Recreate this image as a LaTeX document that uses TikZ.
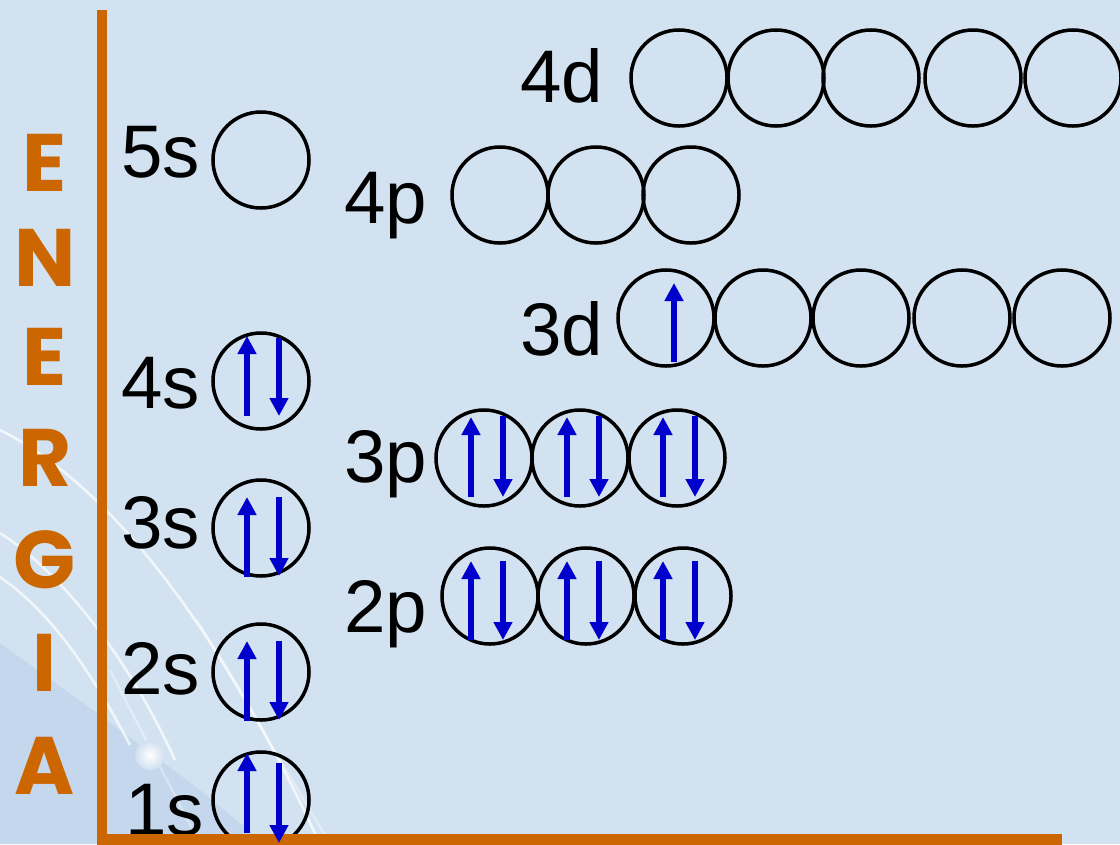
\documentclass[tikz,border=0pt]{standalone}
\usepackage{fontspec}
\setmainfont{Liberation Sans}
\newfontfamily\energfont{Poppins}
\usetikzlibrary{arrows.meta}
\definecolor{bg}{RGB}{211,226,240}
\definecolor{bgdark}{RGB}{196,215,236}
\definecolor{axisorange}{RGB}{204,102,0}
\definecolor{spinblue}{RGB}{0,0,204}
\tikzset{
  orb/.style={circle, draw=black, line width=0.0875cm, minimum size=2.4cm, inner sep=0pt},
  lbl/.style={anchor=base west, inner sep=0pt, font=\fontsize{53}{62}\selectfont},
  spin/.style={draw=spinblue, line width=0.15cm, -{Triangle[width=0.45cm,length=0.45cm]}},
  letter/.style={text=axisorange, inner sep=0pt, font=\energfont\bfseries\fontsize{58}{68}\selectfont},
  axisline/.style={draw=axisorange},
  deco/.style={draw=white, line width=0.065cm, opacity=0.7},
  faint/.style={draw=white, line width=0.06cm, opacity=0.35},
}
\begin{document}
\begin{tikzpicture}[x=0.025cm,y=-0.025cm]
\useasboundingbox (0,0) rectangle (1120,844);
\fill[bg] (0,0) rectangle (1120,844);
% background decoration
\fill[bgdark] (0,643) -- (97,713) -- (200,790) -- (265,844) -- (0,844) -- cycle;
\draw[deco] (0,430) .. controls (120,490) and (230,650) .. (320,844);
\draw[deco] (0,533) .. controls (50,565) and (120,640) .. (175,760);
\draw[deco] (0,577) .. controls (40,605) and (80,650) .. (130,745);
\draw[faint] (197,620) -- (330,844);
\draw[faint] (110,670) -- (200,844);
\shade[inner color=white, outer color=bgdark!80!white] (150,755) circle (15);

% ENERGIA
\node[letter] (e1) at (45,163) {E};
\node[letter] (e2) at (45,258) {N};
\node[letter] (e3) at (45,357) {E};
\node[letter] (e4) at (45,458) {R};
\node[letter] (e5) at (45,560) {G};
\node[letter] (e6) at (45,663) {I};
\node[letter] (e7) at (45,766) {A};

% labels
\node[lbl] (l5s) at (121,177) {5s};
\node[lbl] (l4s) at (121,408) {4s};
\node[lbl] (l3s) at (121,548) {3s};
\node[lbl] (l2s) at (121,694) {2s};
\node[lbl] (l1s) at (125,835) {1s};
\node[lbl] (l4p) at (344,223) {4p};
\node[lbl] (l3p) at (344,482) {3p};
\node[lbl] (l2p) at (344,632) {2p};
\node[lbl] (l4d) at (520,102) {4d};
\node[lbl] (l3d) at (520,355) {3d};

% orbitals
\node[orb] (s5) at (261,160) {};
\node[orb] (s4) at (261,381) {};
\node[orb] (s3) at (261,528) {};
\node[orb] (s2) at (261,672) {};
\node[orb] (s1) at (261,800) {};
\node[orb] (p4a) at (500,195) {};
\node[orb] (p4b) at (596,195) {};
\node[orb] (p4c) at (691,195) {};
\node[orb] (p3a) at (484,458) {};
\node[orb] (p3b) at (580,458) {};
\node[orb] (p3c) at (677,458) {};
\node[orb] (p2a) at (490,596) {};
\node[orb] (p2b) at (586,596) {};
\node[orb] (p2c) at (683,596) {};
\node[orb] (d3a) at (666,318) {};
\node[orb] (d3b) at (763,318) {};
\node[orb] (d3c) at (861,318) {};
\node[orb] (d3d) at (962,318) {};
\node[orb] (d3e) at (1062,318) {};
\node[orb] (d4a) at (679,78) {};
\node[orb] (d4b) at (776,78) {};
\node[orb] (d4c) at (871,78) {};
\node[orb] (d4d) at (973,78) {};
\node[orb] (d4e) at (1073,78) {};

% axes
\draw[axisline, line width=0.27cm] (102,10) -- (102,844);
\draw[axisline, line width=0.3cm] (97,840) -- (1062,840);

% spins
\draw[spin] (247,416) -- (247,336);
\draw[spin] (279,338) -- (279,416);
\draw[spin] (247,577) -- (247,497);
\draw[spin] (279,497) -- (279,576);
\draw[spin] (247,721) -- (247,641);
\draw[spin] (279,641) -- (279,720);
\draw[spin] (247,833) -- (247,753);
\draw[spin] (279,763) -- (279,843);
\foreach \u/\d in {471/503, 567/599, 663/695} {
  \draw[spin] (\u,497) -- (\u,417);
  \draw[spin] (\d,416) -- (\d,497);
  \draw[spin] (\u,640) -- (\u,561);
  \draw[spin] (\d,561) -- (\d,640);
}
\draw[spin] (674,362) -- (674,283);
\end{tikzpicture}
\end{document}
